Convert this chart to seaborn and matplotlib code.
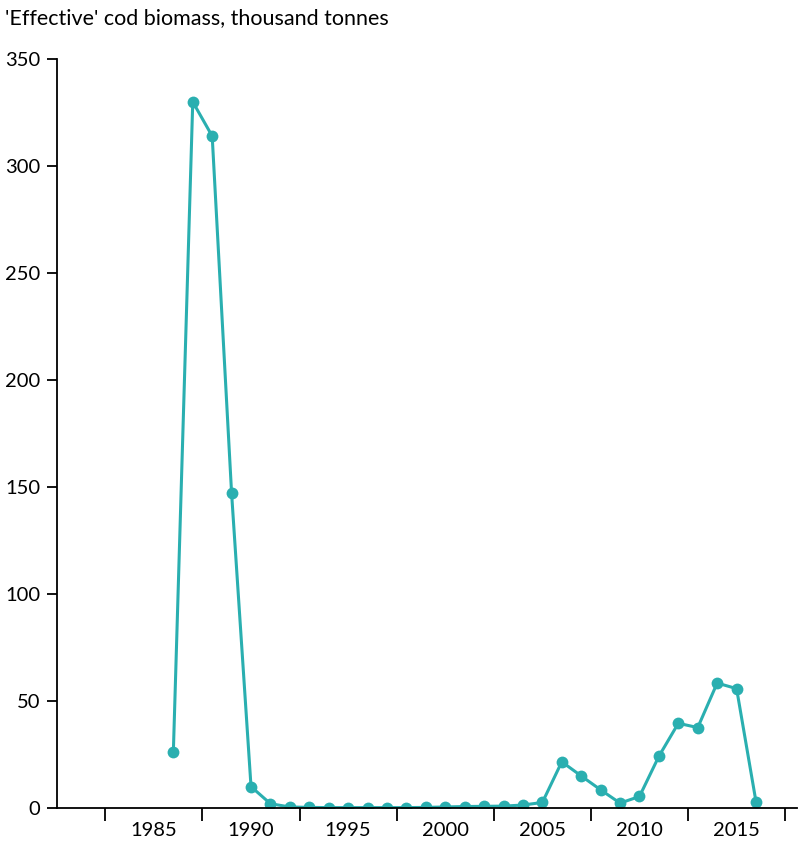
import numpy as np
import pandas as pd
import seaborn as sns
import matplotlib.pyplot as plt
from matplotlib.ticker import FixedLocator

# dati
years = list(range(1986, 2017))
biomass = [26, 330, 314, 147, 10, 2, 0.5, 0.3, 0.2, 0.2, 0.2, 0.2, 0.2, 0.3, 0.5,
           0.7, 0.8, 0.9, 1.4, 2.6, 21.6, 15, 8.5, 2.3, 5.4, 24.2, 39.6, 37.6, 58.4, 55.8, 2.9]
label_years = [1985, 1990, 1995, 2000, 2005, 2010, 2015]
y_ticks = [0, 50, 100, 150, 200, 250, 300, 350]

df = pd.DataFrame({"year": years, "biomass": biomass})

sns.set_style("white")
plt.rcParams["font.family"] = ["Lato", "DejaVu Sans"]
teal = "#2AAFB0"

fig = plt.figure(figsize=(8, 8.41), dpi=100)
ax = fig.add_axes([0.071, 0.0392, 0.925, 0.8906])

sns.lineplot(data=df, x="year", y="biomass", ax=ax, color=teal, linewidth=2.2,
             marker="o", markersize=8.5, markeredgewidth=0, markerfacecolor=teal)

ax.set_xlim(1980.0, 2018.1)
ax.set_ylim(0, 350)
ax.set_yticks(y_ticks)
ax.set_yticklabels([str(v) for v in y_ticks], fontsize=14.5)

# tacche maggiori tra le etichette, etichette sulle tacche minori
ax.xaxis.set_major_locator(FixedLocator([y - 2.5 for y in label_years] + [2017.5]))
ax.xaxis.set_minor_locator(FixedLocator(label_years))
ax.set_xticklabels([], minor=False)
ax.set_xticklabels([str(y) for y in label_years], minor=True, fontsize=14.5)
ax.tick_params(axis="x", which="major", bottom=True, length=9, width=1.3,
               color="black", direction="out")
ax.tick_params(axis="x", which="minor", bottom=True, length=0, pad=10, labelcolor="black")
ax.tick_params(axis="y", left=True, length=7, width=1.3, color="black",
               direction="out", pad=5, labelcolor="black")

ax.set_xlabel("")
ax.set_ylabel("")
for s in ["top", "right"]:
    ax.spines[s].set_visible(False)
for s in ["left", "bottom"]:
    ax.spines[s].set_color("black")
    ax.spines[s].set_linewidth(1.3)

fig.text(0.006, 0.978, "'Effective' cod biomass, thousand tonnes", fontsize=15.5,
         ha="left", va="center", color="black")

fig.savefig("out.png", dpi=100)
